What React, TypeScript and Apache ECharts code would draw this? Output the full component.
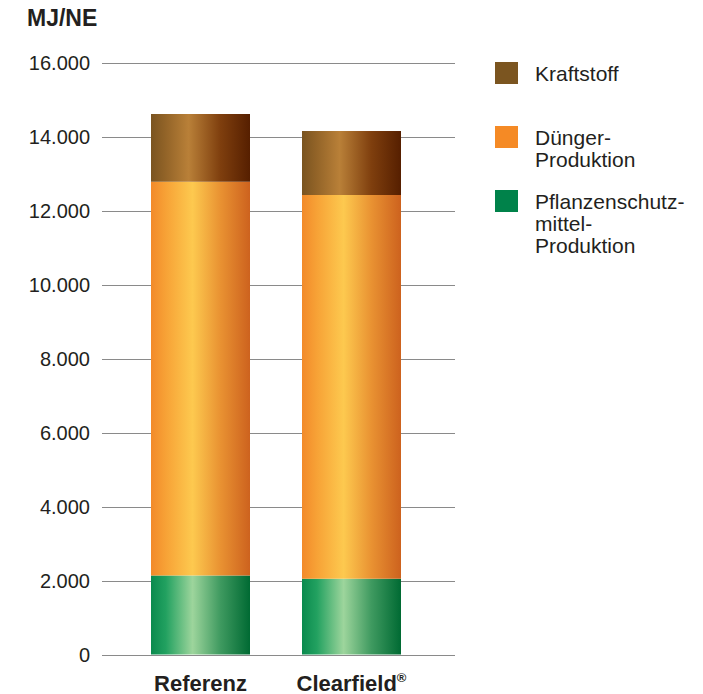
import React, { useEffect, useRef } from "react";
import * as echarts from "echarts";

const categories = ["Referenz", "Clearfield®"];
const pflanzenschutz = [2140, 2050];
const duenger = [10650, 10380];
const kraftstoff = [1830, 1730];
const yTicks = { min: 0, max: 16000, interval: 2000 };
const unitLabel = "MJ/NE";
const seriesNames = ["Pflanzenschutzmittel-Produktion", "Dünger-Produktion", "Kraftstoff"];
const legendLabels = [["Kraftstoff"], ["Dünger-", "Produktion"], ["Pflanzenschutz-", "mittel-", "Produktion"]];
const legendColors = ["#7b5520", "#f58a25", "#00824a"];

const FONT = "'Liberation Sans', Arial, Helvetica, sans-serif";
const TXT = "#231f20";

function hGrad(stops: [number, string][]) {
  return new echarts.graphic.LinearGradient(0, 0, 1, 0, stops.map(([offset, color]) => ({ offset, color })));
}

const greenGrad = () => hGrad([[0, "#0a8a4e"], [0.15, "#22a160"], [0.42, "#9dd59c"], [0.7, "#3f9a60"], [1, "#006a33"]]);
const orangeGrad = () => hGrad([[0, "#f28a2a"], [0.15, "#f7a236"], [0.42, "#fdc94f"], [0.7, "#e99232"], [1, "#cd621e"]]);
const brownGrad = () => hGrad([[0, "#7a5420"], [0.15, "#936428"], [0.38, "#b98038"], [0.7, "#7f3f0e"], [1, "#561f00"]]);

function fmt(v: number) {
  return String(v).replace(/\B(?=(\d{3})+(?!\d))/g, ".");
}

export default function App() {
  const ref = useRef<HTMLDivElement>(null);
  useEffect(() => {
    if (!ref.current) return;
    const chart = echarts.init(ref.current, undefined, { renderer: "svg" });
    const legendCenters = [73, 137, 201];
    const lineStep = 22;
    const legendGraphics: any[] = [];
    legendLabels.forEach((lines, i) => {
      legendGraphics.push({
        type: "rect",
        shape: { x: 495, y: legendCenters[i] - 11, width: 23, height: 22 },
        style: { fill: legendColors[i] },
      });
      lines.forEach((ln, j) => {
        legendGraphics.push({
          type: "text",
          x: 535,
          y: legendCenters[i] + j * lineStep,
          style: { text: ln, font: `21px ${FONT}`, fill: TXT, verticalAlign: "middle" },
        });
      });
    });
    chart.setOption({
      animation: false,
      textStyle: { fontFamily: FONT },
      grid: [
        { left: 125, right: 276, top: 63, bottom: 39 },
        { left: 102, right: 248, top: 63, bottom: 39 },
      ],
      xAxis: [
        {
          type: "category",
          gridIndex: 0,
          data: categories,
          axisLine: { show: false },
          axisTick: { show: false },
          axisLabel: {
            margin: 16,
            color: TXT,
            formatter: (v: string) =>
              v.endsWith("®") ? `{b|${v.slice(0, -1)}}{s|®}` : `{b|${v}}`,
            rich: {
              b: { fontSize: 22, fontWeight: "bold", color: TXT, fontFamily: FONT, lineHeight: 25 },
              s: { fontSize: 13, fontWeight: "bold", color: TXT, fontFamily: FONT, verticalAlign: "top", lineHeight: 25, padding: [0, 0, 8, 0] },
            },
          },
        },
        { type: "category", gridIndex: 1, data: categories, show: false },
      ],
      yAxis: [
        { type: "value", gridIndex: 0, ...yTicks, show: false, splitLine: { show: false } },
        {
          type: "value",
          gridIndex: 1,
          ...yTicks,
          axisLine: { show: false },
          axisTick: { show: false },
          axisLabel: { margin: 12, color: TXT, fontSize: 20, fontFamily: FONT, formatter: (v: number) => fmt(v) },
          splitLine: { lineStyle: { color: "#8a8a8a", width: 1.2 } },
        },
      ],
      series: [
        { name: seriesNames[0], type: "bar", stack: "t", xAxisIndex: 0, yAxisIndex: 0, barWidth: 99, data: pflanzenschutz, itemStyle: { color: greenGrad() } },
        { name: seriesNames[1], type: "bar", stack: "t", xAxisIndex: 0, yAxisIndex: 0, barWidth: 99, data: duenger, itemStyle: { color: orangeGrad() } },
        { name: seriesNames[2], type: "bar", stack: "t", xAxisIndex: 0, yAxisIndex: 0, barWidth: 99, data: kraftstoff, itemStyle: { color: brownGrad() } },
      ],
      graphic: [
        {
          type: "text",
          x: 27,
          y: 6,
          style: { text: unitLabel, font: `bold 23px ${FONT}`, fill: TXT, verticalAlign: "top" },
        },
        ...legendGraphics,
      ],
    });
    return () => chart.dispose();
  }, []);
  return <div ref={ref} style={{ position: "absolute", left: 0, top: 0, width: 703, height: 694 }} />;
}
